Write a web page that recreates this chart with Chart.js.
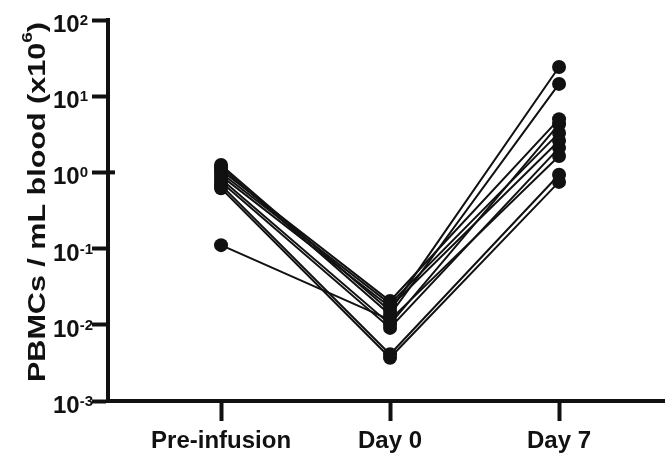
<!DOCTYPE html>
<html lang="en">
<head>
<meta charset="utf-8">
<title>PBMCs / mL blood</title>
<script src="https://cdn.jsdelivr.net/npm/chart.js"></script>
<style>
  html, body { margin: 0; padding: 0; background: #fff; }
</style>
</head>
<body>
<canvas id="pbmc-chart" width="665" height="456"></canvas>
<script>
// time points on the x axis
const categories = ['Pre-infusion', 'Day 0', 'Day 7'];
// one value per patient, same order in each array (x10^6 cells / mL)
const preInfusion = [1.25, 1.18, 1.07, 0.98, 0.90, 0.82, 0.75, 0.68, 0.62, 0.111];
const day0 = [0.0152, 0.0135, 0.0205, 0.0188, 0.0171, 0.0102, 0.0091, 0.0041, 0.0037, 0.0116];
const day7 = [24.2, 14.5, 5.0, 3.3, 2.6, 4.3, 2.1, 0.93, 0.75, 1.64];
// log axis ticks, 10^e
const yTickExponents = [2, 1, 0, -1, -2, -3];
const yTitle = ['PBMCs / mL blood (x10', '6', ')'];

const FONT = '"Liberation Sans", Arial, Helvetica, sans-serif';

// draws the 10^n tick labels and the rotated axis title with real superscripts
const powerLabels = {
  id: 'powerLabels',
  afterDraw(chart) {
    const ctx = chart.ctx;
    const ys = chart.scales.y;
    const area = chart.chartArea;
    ctx.save();
    ctx.fillStyle = '#111';
    ctx.textAlign = 'left';
    ctx.textBaseline = 'alphabetic';
    yTickExponents.forEach(e => {
      const py = ys.getPixelForValue(Math.pow(10, e));
      ctx.font = 'bold 24px ' + FONT;
      ctx.fillText('10', 53, py + 12);
      const w = ctx.measureText('10').width;
      ctx.font = 'bold 15px ' + FONT;
      ctx.fillText(String(e), 53 + w, py + 5);
      if (e === 0) {
        // this tick crosses the axis
        ctx.fillRect(area.left, py - 2, 7, 4);
      }
    });

    // y title, stretched along its length like the original
    ctx.translate(45, 202);
    ctx.rotate(-Math.PI / 2);
    ctx.font = 'bold 24px ' + FONT;
    const w1 = ctx.measureText(yTitle[0]).width;
    const w3 = ctx.measureText(yTitle[2]).width;
    ctx.font = 'bold 15px ' + FONT;
    const w2 = ctx.measureText(yTitle[1]).width;
    const total = w1 + w2 + w3;
    ctx.scale(360 / total, 1);
    let x = -total / 2;
    ctx.font = 'bold 24px ' + FONT;
    ctx.fillText(yTitle[0], x, 0);
    x += w1;
    ctx.font = 'bold 15px ' + FONT;
    ctx.fillText(yTitle[1], x, -13);
    x += w2;
    ctx.font = 'bold 24px ' + FONT;
    ctx.fillText(yTitle[2], x, 0);
    ctx.restore();
  }
};

const datasets = preInfusion.map((p, i) => ({
  data: [{ x: 0, y: p }, { x: 1, y: day0[i] }, { x: 2, y: day7[i] }],
  showLine: true,
  borderColor: '#111',
  borderWidth: 2,
  pointRadius: 7,
  pointBackgroundColor: '#111',
  pointBorderWidth: 0
}));

new Chart(document.getElementById('pbmc-chart'), {
  type: 'scatter',
  data: { datasets: datasets },
  options: {
    responsive: false,
    animation: false,
    layout: { autoPadding: false, padding: { top: 20, right: 0, bottom: 0, left: 0 } },
    plugins: { legend: { display: false }, tooltip: { enabled: false } },
    scales: {
      x: {
        type: 'linear',
        min: -0.669,
        max: 2.627,
        afterBuildTicks: s => { s.ticks = categories.map((c, i) => ({ value: i })); },
        afterFit: s => { s.height = 55; s.paddingLeft = 0; s.paddingRight = 0; },
        ticks: {
          callback: v => categories[v],
          color: '#111',
          font: { family: FONT, size: 24, weight: 'bold' },
          padding: 6,
          maxRotation: 0,
          autoSkip: false
        },
        grid: { drawOnChartArea: false, tickLength: 20, tickWidth: 4, tickColor: '#111' },
        border: { display: true, color: '#111', width: 4 }
      },
      y: {
        type: 'logarithmic',
        min: 1e-3,
        max: 1e2,
        afterBuildTicks: s => { s.ticks = yTickExponents.map(e => ({ value: Math.pow(10, e) })); },
        afterFit: s => { s.width = 108; s.paddingTop = 0; s.paddingBottom = 0; },
        ticks: { callback: () => '' },
        grid: { drawOnChartArea: false, tickLength: 16, tickWidth: 4, tickColor: '#111' },
        border: { display: true, color: '#111', width: 4 }
      }
    }
  },
  plugins: [powerLabels]
});
</script>
</body>
</html>
